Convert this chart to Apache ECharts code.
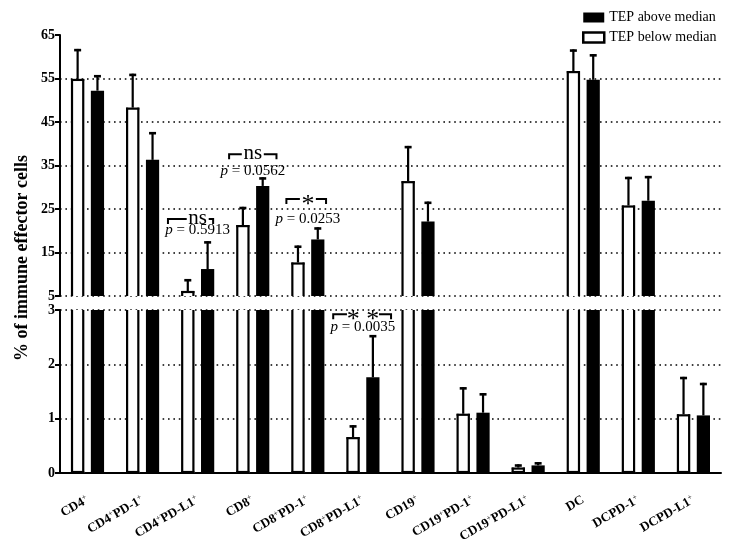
<!DOCTYPE html>
<html>
<head>
<meta charset="utf-8">
<script src="https://cdn.jsdelivr.net/npm/echarts@6/dist/echarts.min.js"></script>
<style>html,body{margin:0;padding:0;background:#fff}#c{width:743px;height:554px}</style>
</head>
<body>
<div id="c"></div>
<script>
// ---------- data ----------
const categories = ['CD4+', 'CD4+PD-1+', 'CD4+PD-L1+', 'CD8+', 'CD8+PD-1+', 'CD8+PD-L1+',
  'CD19+', 'CD19+PD-1+', 'CD19+PD-L1+', 'DC', 'DCPD-1+', 'DCPD-L1+'];
const belowMean = [54.9, 48.3, 6.15, 21.3, 12.7, 0.66, 31.4, 1.09, 0.10, 56.7, 25.8, 1.08];
const belowSD   = [6.9, 7.8, 2.75, 4.2, 3.9, 0.22, 8.1, 0.49, 0.06, 5.0, 6.6, 0.69];
const aboveMean = [52.2, 36.3, 11.2, 30.3, 18.0, 1.76, 22.1, 1.11, 0.14, 54.7, 26.9, 1.06];
const aboveSD   = [3.6, 6.4, 6.4, 2.0, 2.8, 0.78, 4.6, 0.36, 0.06, 5.9, 5.7, 0.60];
const upperTicks = [5, 15, 25, 35, 45, 55, 65];
const lowerTicks = [0, 1, 2, 3];
// significance annotations
const sigCategory = [2, 3, 4, 5];
const sigLevel    = [22.7, 37.6, 27.3, 2.92];
const sigText     = ['ns', 'ns', '*', '* *'];
const pValue      = ['0.5913', '0.0562', '0.0253', '0.0035'];
const pLevel      = [20.2, 33.7, 22.7, 2.69];
const sigPanel    = [0, 0, 0, 1];

// ---------- styles ----------
const FONT = "'Liberation Serif', 'Times New Roman', serif";
const bracketSpan = [[-0.54, 0.28], [-0.43, 0.43], [-0.39, 0.33], [-0.54, 0.51]];
const sigGap = { 'ns': 11, '*': 8, '* *': 16 };
const sigSize = { 'ns': 21, '*': 26, '* *': 26 };
const sigShift = { 'ns': -1, '*': 6, '* *': 6 };

const chart = echarts.init(document.getElementById('c'));

function barRenderer(side, filled) {
  return function (params, api) {
    const i = api.value(0), v = api.value(1), s = api.value(2);
    const cs = params.coordSys;
    const band = api.size([1, 0])[0];
    const pTop = api.coord([i, v]);
    const cx = pTop[0] + side * band * 0.18;
    const w = band * 0.24;
    const yTop = pTop[1];
    const yBase = api.coord([i, 0])[1];
    const yErr = api.coord([i, v + s])[1];
    const gTop = cs.y, gBot = cs.y + cs.height;
    const children = [];
    const top = Math.max(yTop, gTop), bot = Math.min(yBase, gBot);
    const xl = cx - w / 2, xr = cx + w / 2;
    if (top < bot) {
      if (filled) {
        children.push({ type: 'rect', shape: { x: xl, y: top, width: w, height: bot - top }, style: { fill: '#000' } });
      } else {
        children.push({ type: 'rect', shape: { x: xl, y: top, width: w, height: bot - top }, style: { fill: '#fff' } });
        const ls = { stroke: '#000', lineWidth: 2.2 };
        children.push({ type: 'line', shape: { x1: xl + 1, y1: top, x2: xl + 1, y2: bot }, style: ls });
        children.push({ type: 'line', shape: { x1: xr - 1, y1: top, x2: xr - 1, y2: bot }, style: ls });
        if (yTop >= gTop) children.push({ type: 'line', shape: { x1: xl, y1: yTop + 1, x2: xr, y2: yTop + 1 }, style: ls });
        if (yBase <= gBot) children.push({ type: 'line', shape: { x1: xl, y1: yBase - 1, x2: xr, y2: yBase - 1 }, style: ls });
      }
    }
    // error bar
    const eTop = Math.max(yErr, gTop), eBot = Math.min(yTop, gBot);
    if (eTop < eBot) {
      children.push({ type: 'line', shape: { x1: cx, y1: eTop, x2: cx, y2: eBot }, style: { stroke: '#000', lineWidth: 2.2 } });
    }
    if (yErr >= gTop && yErr <= gBot) {
      children.push({ type: 'line', shape: { x1: cx - 3.5, y1: yErr + 1.2, x2: cx + 3.5, y2: yErr + 1.2 }, style: { stroke: '#000', lineWidth: 2.6 } });
    }
    return { type: 'group', children: children };
  };
}

function sigRenderer(params, api) {
  const k = api.value(2);
  const c = api.coord([api.value(0), api.value(1)]);
  const band = api.size([1, 0])[0];
  const cx = c[0], y = c[1];
  const xl = cx + bracketSpan[k][0] * band, xr = cx + bracketSpan[k][1] * band;
  const lab = sigText[k];
  const g = sigGap[lab];
  const py = api.coord([api.value(0), pLevel[k]])[1];
  const ls = { stroke: '#000', lineWidth: 2, fill: null };
  return {
    type: 'group',
    children: [
      { type: 'polyline', shape: { points: [[xl, y + 5], [xl, y], [cx - g, y]] }, style: ls },
      { type: 'polyline', shape: { points: [[cx + g, y], [xr, y], [xr, y + 5]] }, style: ls },
      { type: 'text', x: cx, y: y + sigShift[lab], style: { text: lab, fontFamily: FONT, fontSize: sigSize[lab], fill: '#000', align: 'center', verticalAlign: 'middle' } },
      { type: 'text', x: cx, y: py, style: {
          text: '{i|p} = ' + pValue[k], fontFamily: FONT, fontSize: 15, fill: '#000', align: 'center', verticalAlign: 'middle',
          rich: { i: { fontStyle: 'italic', fontFamily: FONT, fontSize: 15 } } } }
    ]
  };
}

function seriesData(mean, sd) { return mean.map((m, i) => [i, m, sd[i]]); }
function sigData(panel) {
  const out = [];
  sigCategory.forEach((c, k) => { if (sigPanel[k] === panel) out.push([c, sigLevel[k], k]); });
  return out;
}

const axisLineStyle = { color: '#000', width: 2 };
const dotted = { color: '#000', width: 1.6, type: [1.6, 3.8] };
const yLabel = { color: '#000', fontFamily: FONT, fontWeight: 'bold', fontSize: 14, margin: 5 };

const option = {
  animation: false,
  backgroundColor: '#fff',
  legend: {
    orient: 'vertical', left: 577, top: 5, itemWidth: 21, itemHeight: 10, itemGap: 5,
    textStyle: { fontFamily: FONT, fontSize: 14, color: '#000', lineHeight: 15 },
    data: [
      { name: 'TEP above median', icon: 'rect', itemStyle: { color: '#000', borderWidth: 0 } },
      { name: 'TEP below median', icon: 'rect', itemStyle: { color: '#fff', borderColor: '#000', borderWidth: 2.5 } }
    ]
  },
  grid: [
    { left: 60, right: 22, top: 35, height: 261 },
    { left: 60, right: 22, top: 310, height: 163 }
  ],
  xAxis: [
    { type: 'category', gridIndex: 0, data: categories, show: false },
    { type: 'category', gridIndex: 1, data: categories, offset: 19,
      axisLine: { lineStyle: axisLineStyle },
      axisTick: { alignWithLabel: true, length: 5, lineStyle: { width: 2, color: '#000' } },
      axisLabel: {
        interval: 0, rotate: 30, margin: 7, color: '#000', fontFamily: FONT, fontWeight: 'bold', fontSize: 13,
        formatter: v => v.replace(/\+/g, '{s|+}'),
        rich: { s: { fontSize: 8, fontFamily: FONT, color: '#444', verticalAlign: 'top', padding: [0, 0, 6, 0] } }
      },
      splitLine: { show: false }
    }
  ],
  yAxis: [
    { type: 'value', gridIndex: 0, min: upperTicks[0], max: upperTicks[upperTicks.length - 1], interval: upperTicks[1] - upperTicks[0],
      axisLine: { show: true, lineStyle: axisLineStyle },
      axisTick: { show: true, length: 5, lineStyle: { width: 2, color: '#000' } },
      axisLabel: yLabel,
      splitLine: { show: true, showMaxLine: false, lineStyle: dotted } },
    { type: 'value', gridIndex: 1, min: lowerTicks[0], max: lowerTicks[lowerTicks.length - 1], interval: lowerTicks[1] - lowerTicks[0],
      axisLine: { show: true, lineStyle: axisLineStyle },
      axisTick: { show: true, length: 5, lineStyle: { width: 2, color: '#000' } },
      axisLabel: yLabel,
      splitLine: { show: true, lineStyle: dotted } }
  ],
  graphic: [
    { type: 'text', x: 22, y: 258, rotation: Math.PI / 2,
      style: { text: '% of immune effector cells', fontFamily: FONT, fontWeight: 'bold', fontSize: 18, fill: '#000', align: 'center', verticalAlign: 'middle' } }
  ],
  series: [
    { type: 'custom', name: 'TEP below median', xAxisIndex: 0, yAxisIndex: 0, renderItem: barRenderer(-1, false), data: seriesData(belowMean, belowSD), encode: { x: 0, y: 1 }, itemStyle: { color: '#fff', borderColor: '#000' }, z: 3 },
    { type: 'custom', name: 'TEP above median', xAxisIndex: 0, yAxisIndex: 0, renderItem: barRenderer(1, true), data: seriesData(aboveMean, aboveSD), encode: { x: 0, y: 1 }, itemStyle: { color: '#000' }, z: 3 },
    { type: 'custom', name: 'TEP below median', xAxisIndex: 1, yAxisIndex: 1, renderItem: barRenderer(-1, false), data: seriesData(belowMean, belowSD), encode: { x: 0, y: 1 }, itemStyle: { color: '#fff', borderColor: '#000' }, z: 3 },
    { type: 'custom', name: 'TEP above median', xAxisIndex: 1, yAxisIndex: 1, renderItem: barRenderer(1, true), data: seriesData(aboveMean, aboveSD), encode: { x: 0, y: 1 }, itemStyle: { color: '#000' }, z: 3 },
    { type: 'custom', name: 'sig-upper', xAxisIndex: 0, yAxisIndex: 0, renderItem: sigRenderer, data: sigData(0), encode: { x: 0, y: 1 }, z: 4, silent: true },
    { type: 'custom', name: 'sig-lower', xAxisIndex: 1, yAxisIndex: 1, renderItem: sigRenderer, data: sigData(1), encode: { x: 0, y: 1 }, z: 4, silent: true }
  ]
};
chart.setOption(option);
</script>
</body>
</html>
